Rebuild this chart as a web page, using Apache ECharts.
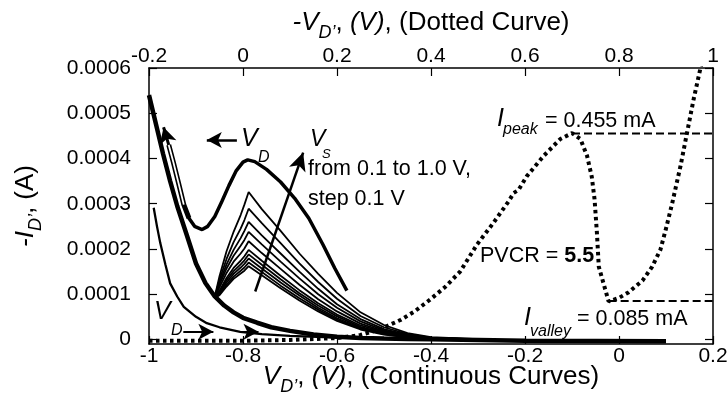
<!DOCTYPE html>
<html>
<head>
<meta charset="utf-8">
<title>-I_D' vs V_D'</title>
<script src="https://cdn.jsdelivr.net/npm/echarts@6/dist/echarts.min.js"></script>
<style>
  html, body { margin: 0; padding: 0; background: #fff; }
  #main { width: 727px; height: 400px; }
</style>
</head>
<body>
<div id="main"></div>
<script>
// all currents are -I_D' in microamps, the axis labels show amps

// left axis ticks
var yTickVals = [0, 100, 200, 300, 400, 500, 600];
var yTickLabels = ['0', '0.0001', '0.0002', '0.0003', '0.0004', '0.0005', '0.0006'];

// V_S family (V_S = 0.1 ... 1.0 V), continuous curves, bottom axis
var thinX = [-0.86, -0.85, -0.835, -0.82, -0.805, -0.797, -0.793, -0.788, -0.76, -0.72, -0.68, -0.64, -0.60, -0.55, -0.50, -0.45, -0.40, -0.30];
var vsFamily = [
  [95, 140, 195, 238, 275, 298, 300, 326, 288, 240, 190, 145, 103, 60, 32, 14, 5, 0.5],
  [94, 132, 178, 215, 245, 264, 266, 289, 257, 213, 168, 127, 90, 52, 27, 12, 4, 0.4],
  [94, 126, 166, 198, 224, 240, 242, 260, 230, 190, 150, 112, 78, 45, 23, 10, 3.5, 0.4],
  [94, 121, 157, 185, 207, 220, 222, 238, 210, 172, 135, 100, 70, 40, 20, 9, 3, 0.3],
  [94, 115, 147, 172, 190, 201, 203, 217, 191, 156, 121, 89, 62, 35, 18, 8, 3, 0.3],
  [94, 108, 136, 158, 174, 184, 186, 198, 174, 141, 109, 80, 55, 31, 16, 7, 2.5, 0.3],
  [94, 105, 131, 151, 166, 175, 177, 188, 165, 133, 102, 75, 51, 28, 14, 6, 2, 0.2],
  [93, 102, 126, 145, 159, 167, 169, 179, 157, 126, 97, 70, 47, 26, 13, 5.5, 2, 0.2],
  [93, 100, 121, 139, 152, 159, 161, 170, 149, 119, 91, 66, 44, 24, 12, 5, 2, 0.2],
  [92, 98, 117, 134, 146, 152, 154, 162, 142, 113, 86, 62, 41, 22, 11, 4.5, 1.5, 0.2]
];

// the thick descending bundle on the left
var bundleX = [-1, -0.985, -0.97, -0.955, -0.94, -0.92, -0.9, -0.88, -0.86, -0.84, -0.82, -0.8, -0.77, -0.74, -0.7, -0.65, -0.6, -0.55, -0.5, -0.45, -0.4, -0.3, -0.2, 0.1];
var bundleY = [540, 475, 410, 350, 295, 232, 168, 125, 95, 75, 60, 48, 37, 27, 19, 11, 6, 3.5, 2, 1, 0.5, -1, -3, -4];

// thick V_D sweep curve (first point = arrow tip)
var sweepX = [-0.969, -0.958, -0.948, -0.937, -0.926, -0.915, -0.903, -0.887, -0.875, -0.86, -0.845, -0.83, -0.815, -0.80, -0.79, -0.775, -0.75, -0.72, -0.69, -0.66, -0.63, -0.605, -0.579];
var sweepY = [469, 430, 391, 345, 298, 268, 250, 243, 250, 272, 305, 340, 372, 392, 397, 393, 376, 348, 312, 268, 210, 158, 108];

// lower left curve
var lowX = [-0.99, -0.983, -0.976, -0.965, -0.955, -0.94, -0.926, -0.90, -0.877, -0.85, -0.806, -0.76, -0.7, -0.6, -0.5, -0.4];
var lowY = [291, 250, 213, 165, 124, 95, 72, 50, 36, 27, 17, 12, 8, 4, 2, 0.5];

// dotted curve, top axis (-V_D')
var dotX = [-0.2, 0.0, 0.1, 0.2, 0.25, 0.29, 0.335, 0.365, 0.398, 0.43, 0.462, 0.498, 0.533, 0.565, 0.576, 0.586, 0.604, 0.64, 0.675, 0.70, 0.718, 0.732, 0.742, 0.748, 0.753, 0.757, 0.767, 0.778, 0.80, 0.82, 0.85, 0.87, 0.888, 0.90, 0.913, 0.931, 0.945, 0.959, 0.973, 0.978];
var dotY = [-3, -3, -1, 3, 10, 22, 43, 62, 88, 116, 150, 210, 258, 305, 324, 330, 361, 406, 443, 456, 443, 406, 360, 310, 236, 161, 124, 84, 92, 104, 130, 160, 198, 245, 300, 384, 458, 532, 598, 625];

// peak / valley levels
var peakX = [0.70, 1], peakY = [455, 455];
var valleyX = [0.778, 1], valleyY = [85, 85];

var F = '"Liberation Sans", Arial, sans-serif';

function pairs(xs, ys) {
  return xs.map(function (x, i) { return [x, ys[i]]; });
}

var myChart = echarts.init(document.getElementById('main'));

var axisLine = { show: true, onZero: false, lineStyle: { color: '#000', width: 1.5 } };
var axisTick = { show: true, inside: true, length: 8, lineStyle: { color: '#000', width: 1.2 } };

var nameRich = {
  i: { fontFamily: F, fontSize: 26, fontStyle: 'italic', color: '#000' },
  s: { fontFamily: F, fontSize: 18, fontStyle: 'italic', color: '#000', padding: [20, 0, 0, 0] },
  n: { fontFamily: F, fontSize: 26, color: '#000' }
};

var series = [];

// bundle
series.push({
  type: 'line', xAxisIndex: 0, data: pairs(bundleX, bundleY), showSymbol: false,
  lineStyle: { color: '#000', width: 4.5 },
  markLine: {
    silent: true, symbol: ['none', 'arrow'], symbolSize: [12, 15],
    label: { show: false },
    lineStyle: { color: '#000', width: 2.5, type: 'solid' },
    itemStyle: { color: '#000' },
    data: [
      [{ coord: [-0.813, 441] }, { coord: [-0.877, 441] }],
      [{ coord: [-0.927, 17], lineStyle: { width: 2 } }, { coord: [-0.863, 17] }],
      [{ coord: [-0.806, 17], lineStyle: { width: 2 } }, { coord: [-0.767, 17] }],
      [{ coord: [-0.774, 106] }, { coord: [-0.672, 413], symbolSize: [13, 18] }]
    ]
  }
});

vsFamily.forEach(function (ys) {
  series.push({
    type: 'line', xAxisIndex: 0, data: pairs(thinX, ys), showSymbol: false,
    lineStyle: { color: '#000', width: 1.8 }
  });
});

series.push({
  type: 'line', xAxisIndex: 0, data: pairs(lowX, lowY), showSymbol: false,
  lineStyle: { color: '#000', width: 2.3 }
});

// V_D sweep, hollow upper part + arrow head
series.push({
  type: 'line', xAxisIndex: 0, data: pairs(sweepX.slice(4), sweepY.slice(4)), showSymbol: false,
  lineStyle: { color: '#000', width: 3.5 }
});
series.push({
  type: 'line', xAxisIndex: 0, data: pairs(sweepX.slice(1, 6), sweepY.slice(1, 6)), showSymbol: false,
  lineStyle: { color: '#000', width: 5 }
});
series.push({
  type: 'line', xAxisIndex: 0, data: pairs(sweepX.slice(1, 5), sweepY.slice(1, 5)), showSymbol: false,
  lineStyle: { color: '#fff', width: 1.8 },
  markLine: {
    silent: true, symbol: ['none', 'arrow'], symbolSize: [13, 16],
    label: { show: false },
    lineStyle: { color: '#000', width: 3, type: 'solid' },
    itemStyle: { color: '#000' },
    data: [[{ coord: [sweepX[1], sweepY[1]] }, { coord: [sweepX[0], sweepY[0]] }]]
  }
});

// dotted curve and its peak / valley dashes (top axis)
series.push({
  type: 'line', xAxisIndex: 1, data: pairs(dotX, dotY), showSymbol: false,
  lineStyle: { color: '#000', width: 4, type: [3.5, 3.5], cap: 'butt' }
});
series.push({
  type: 'line', xAxisIndex: 1, data: pairs(peakX, peakY), showSymbol: false,
  lineStyle: { color: '#000', width: 2, type: [8, 4] }
});
series.push({
  type: 'line', xAxisIndex: 1, data: pairs(valleyX, valleyY), showSymbol: false,
  lineStyle: { color: '#000', width: 2, type: [8, 4] }
});

function txt(x, y, text, font) {
  return { type: 'text', x: x, y: y, z: 100,
    style: { text: text, font: font, fill: '#000', verticalAlign: 'middle' } };
}

var option = {
  animation: false,
  backgroundColor: '#fff',
  grid: { left: 149, right: 14, top: 68, bottom: 56, containLabel: false, outerBoundsMode: 'none' },
  xAxis: [{
    type: 'value', position: 'bottom', min: -1, max: 0.2, interval: 0.2,
    axisLine: axisLine, axisTick: axisTick, splitLine: { show: false },
    axisLabel: { color: '#000', fontSize: 21, fontFamily: F, margin: 2 },
    name: '{i|V}{s|D\u2019}{n|, }{i|(V)}{n|, (Continuous Curves)}',
    nameLocation: 'middle', nameGap: 14, nameMoveOverlap: false,
    nameTextStyle: { rich: nameRich }
  }, {
    type: 'value', position: 'top', min: -0.2, max: 1, interval: 0.2,
    axisLine: axisLine, axisTick: axisTick, splitLine: { show: false },
    axisLabel: { color: '#000', fontSize: 21, fontFamily: F, margin: 1 },
    name: '{i|-V}{s|D\u2019}{n|, }{i|(V)}{n|, (Dotted Curve)}',
    nameLocation: 'middle', nameGap: 26, nameMoveOverlap: false,
    nameTextStyle: { rich: nameRich }
  }],
  yAxis: [{
    type: 'value', position: 'left', min: -10, max: 600,
    axisLine: axisLine, splitLine: { show: false },
    axisTick: { show: true, inside: true, length: 8, lineStyle: { color: '#000', width: 1.2 }, customValues: yTickVals },
    axisLabel: {
      color: '#000', fontSize: 21, fontFamily: F, margin: 18, customValues: yTickVals,
      formatter: function (v) { return yTickLabels[yTickVals.indexOf(Math.round(v))]; }
    },
    name: '{i|-I}{s|D\u2019}{n|, (A)}',
    nameLocation: 'middle', nameGap: 104, nameRotate: 90, nameMoveOverlap: false,
    nameTextStyle: { rich: nameRich }
  }, {
    type: 'value', position: 'right', min: -10, max: 600,
    axisLine: axisLine, splitLine: { show: false },
    axisTick: { show: true, inside: true, length: 8, lineStyle: { color: '#000', width: 1.2 }, customValues: yTickVals },
    axisLabel: { show: false }
  }],
  series: series,
  graphic: [
    txt(241, 139, 'V', 'italic 25px ' + F),
    txt(258, 157.5, 'D', 'italic 16px ' + F),
    txt(310, 140, 'V', 'italic 23px ' + F),
    txt(322, 154.5, 'S', 'italic 13px ' + F),
    txt(308, 169, 'from 0.1 to 1.0 V,', '21.5px ' + F),
    txt(308, 199, 'step 0.1 V', '21.5px ' + F),
    txt(497, 119, 'I', 'italic 25px ' + F),
    txt(503, 130, 'peak', 'italic 16px ' + F),
    txt(545, 121.5, '= 0.455 mA', '21.5px ' + F),
    {
      type: 'text', x: 480, y: 256.5, z: 100,
      style: {
        text: '{n|PVCR = }{b|5.5}', verticalAlign: 'middle',
        rich: {
          n: { fontFamily: F, fontSize: 21.5, fill: '#000' },
          b: { fontFamily: F, fontSize: 21.5, fontWeight: 'bold', fill: '#000' }
        }
      }
    },
    txt(524, 318.5, 'I', 'italic 25px ' + F),
    txt(530, 332, 'valley', 'italic 16px ' + F),
    txt(577, 319, '= 0.085 mA', '21.5px ' + F),
    txt(154, 312.5, 'V', 'italic 25px ' + F),
    txt(171, 330.5, 'D', 'italic 16px ' + F)
  ]
};

myChart.setOption(option);
</script>
</body>
</html>
